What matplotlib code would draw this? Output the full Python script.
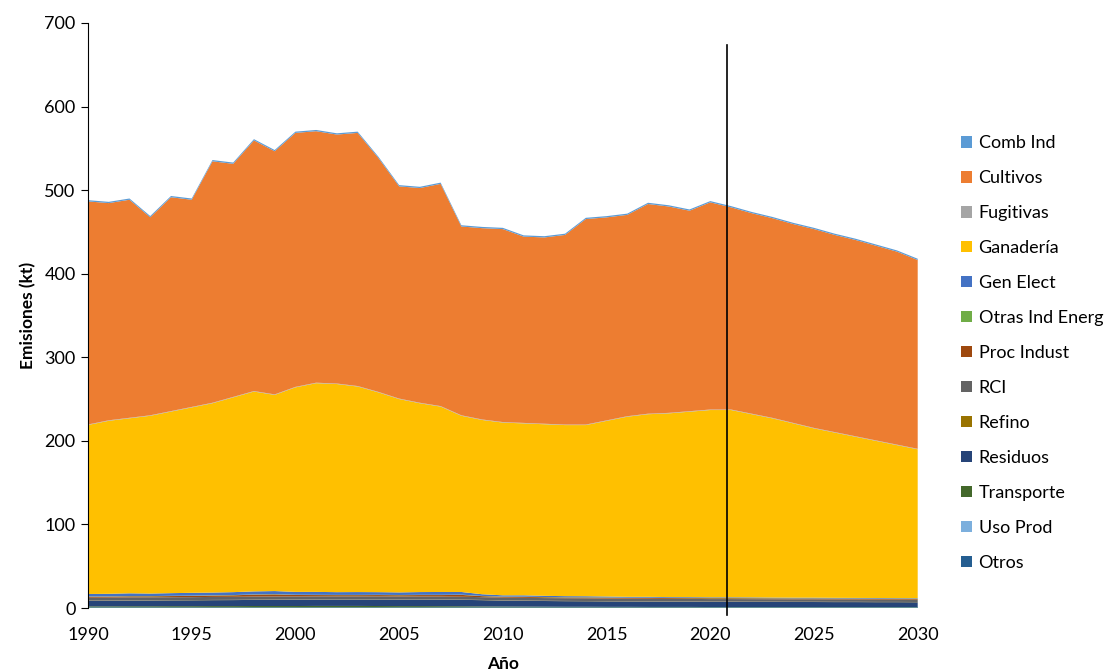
import numpy as np
import matplotlib
matplotlib.use("Agg")
import matplotlib.pyplot as plt

# DATOS (kt), 1990-2030
years = list(range(1990, 2031))

otros = [0.3, 0.3, 0.3, 0.3, 0.3, 0.3, 0.3, 0.3, 0.3, 0.3, 0.3, 0.3, 0.3, 0.3, 0.3, 0.3, 0.3, 0.3, 0.3, 0.3,
         0.3, 0.3, 0.3, 0.3, 0.3, 0.3, 0.3, 0.3, 0.3, 0.3, 0.3, 0.3, 0.3, 0.3, 0.3, 0.3, 0.3, 0.3, 0.3, 0.3, 0.3]
uso_prod = [0.4, 0.4, 0.4, 0.4, 0.4, 0.4, 0.4, 0.4, 0.4, 0.4, 0.4, 0.4, 0.4, 0.4, 0.4, 0.4, 0.4, 0.4, 0.4, 0.4,
            0.4, 0.4, 0.4, 0.4, 0.4, 0.4, 0.4, 0.4, 0.4, 0.4, 0.4, 0.4, 0.4, 0.4, 0.4, 0.4, 0.4, 0.4, 0.4, 0.4, 0.4]
transporte = [1.3, 1.3, 1.4, 1.4, 1.5, 1.5, 1.6, 1.6, 1.7, 1.7, 1.7, 1.8, 1.8, 1.8, 1.7, 1.6, 1.6, 1.5, 1.4, 1.2,
              1.1, 1.0, 0.9, 0.8, 0.8, 0.7, 0.7, 0.6, 0.6, 0.6, 0.5, 0.5, 0.5, 0.5, 0.5, 0.5, 0.5, 0.5, 0.5, 0.5, 0.5]
residuos = [6.5, 6.6, 6.7, 6.8, 6.9, 7.0, 7.1, 7.2, 7.3, 7.4, 7.5, 7.5, 7.6, 7.6, 7.7, 7.7, 7.8, 7.8, 7.7, 7.5,
            7.0, 6.9, 6.8, 6.7, 6.6, 6.5, 6.4, 6.4, 6.3, 6.3, 6.2, 6.2, 6.1, 6.1, 6.0, 6.0, 5.9, 5.9, 5.8, 5.8, 5.7]
refino = [0.3, 0.3, 0.3, 0.3, 0.3, 0.3, 0.3, 0.3, 0.3, 0.3, 0.3, 0.3, 0.3, 0.3, 0.3, 0.3, 0.3, 0.3, 0.3, 0.3,
          0.3, 0.3, 0.3, 0.3, 0.3, 0.3, 0.3, 0.3, 0.3, 0.3, 0.3, 0.3, 0.3, 0.3, 0.3, 0.3, 0.3, 0.3, 0.3, 0.3, 0.3]
rci = [3.5, 3.5, 3.6, 3.6, 3.5, 3.5, 3.6, 3.6, 3.7, 3.7, 3.6, 3.6, 3.5, 3.5, 3.5, 3.5, 3.4, 3.4, 3.4, 3.3,
       3.3, 3.3, 3.2, 3.2, 3.2, 3.1, 3.1, 3.1, 3.0, 3.0, 3.0, 3.0, 3.0, 2.9, 2.9, 2.9, 2.9, 2.8, 2.8, 2.8, 2.8]
proc_indust = [1.2, 1.2, 1.3, 1.2, 1.4, 1.5, 1.6, 1.8, 2.3, 2.5, 1.8, 1.6, 1.5, 1.5, 1.6, 1.5, 1.7, 1.8, 2.2, 1.2,
               1.0, 1.1, 1.0, 0.9, 1.0, 1.1, 0.9, 1.0, 1.0, 0.9, 1.0, 1.0, 1.0, 1.0, 1.0, 1.0, 1.0, 1.0, 1.0, 1.0, 1.0]
otras_ind_energ = [0.3, 0.3, 0.3, 0.3, 0.3, 0.3, 0.3, 0.3, 0.3, 0.3, 0.3, 0.3, 0.3, 0.3, 0.3, 0.3, 0.3, 0.3, 0.3, 0.3,
                   0.3, 0.3, 0.3, 0.3, 0.3, 0.3, 0.3, 0.3, 0.3, 0.3, 0.3, 0.3, 0.3, 0.3, 0.3, 0.3, 0.3, 0.3, 0.3, 0.3, 0.3]
gen_elect = [3.0, 3.1, 3.3, 3.0, 3.2, 3.4, 3.3, 3.5, 3.6, 3.7, 3.4, 3.5, 3.3, 3.4, 3.2, 3.1, 3.3, 3.4, 3.2, 2.0,
             1.5, 1.6, 1.4, 1.3, 1.2, 1.1, 1.0, 1.0, 0.9, 0.9, 0.8, 0.8, 0.8, 0.7, 0.7, 0.7, 0.6, 0.6, 0.6, 0.5, 0.5]
ganaderia = [202.2, 207.0, 209.4, 212.7, 217.2, 221.8, 226.5, 233.0, 239.1, 234.7,
             244.7, 249.7, 249.0, 245.9, 239.0, 231.3, 225.9, 221.8, 210.8, 208.5,
             206.7, 205.7, 205.3, 204.7, 204.8, 210.1, 215.5, 218.5, 219.8, 221.9,
             224.1, 224.1, 219.2, 214.4, 208.5, 202.5, 197.7, 192.8, 187.9, 183.0, 178.1]
fugitivas = [0.6, 0.6, 0.6, 0.6, 0.6, 0.6, 0.6, 0.6, 0.6, 0.6, 0.6, 0.6, 0.6, 0.6, 0.6, 0.6, 0.6, 0.6, 0.6, 0.6,
             0.6, 0.6, 0.6, 0.6, 0.6, 0.6, 0.6, 0.6, 0.6, 0.6, 0.6, 0.6, 0.6, 0.6, 0.6, 0.6, 0.6, 0.6, 0.6, 0.6, 0.6]
cultivos = [266.9, 259.9, 260.9, 236.9, 255.9, 247.9, 288.9, 278.9, 299.9, 290.9,
            303.9, 300.9, 297.9, 302.9, 279.9, 253.9, 256.9, 265.9, 225.9, 228.9,
            230.9, 222.9, 222.9, 226.9, 245.9, 242.9, 240.9, 250.9, 246.9, 239.9,
            247.9, 241.9, 239.9, 238.9, 237.9, 237.9, 235.9, 234.9, 232.9, 230.9, 225.9]
comb_ind = [1.5, 1.5, 1.5, 1.5, 1.5, 1.5, 1.5, 1.5, 1.5, 1.5, 1.5, 1.5, 1.5, 1.5, 1.5, 1.5, 1.5, 1.5, 1.5, 1.5,
            1.5, 1.5, 1.5, 1.5, 1.5, 1.5, 1.5, 1.5, 1.5, 1.5, 1.5, 1.5, 1.5, 1.5, 1.5, 1.5, 1.5, 1.5, 1.5, 1.5, 1.5]

# orden de la leyenda (de arriba hacia abajo)
labels = ["Comb Ind", "Cultivos", "Fugitivas", "Ganadería", "Gen Elect", "Otras Ind Energ",
          "Proc Indust", "RCI", "Refino", "Residuos", "Transporte", "Uso Prod", "Otros"]
series = [comb_ind, cultivos, fugitivas, ganaderia, gen_elect, otras_ind_energ,
          proc_indust, rci, refino, residuos, transporte, uso_prod, otros]
colors = ["#5B9BD5", "#ED7D31", "#A5A5A5", "#FFC000", "#4472C4", "#70AD47",
          "#9E480E", "#636363", "#997300", "#264478", "#43682B", "#7CAFDD", "#255E91"]

plt.rcParams['font.family'] = ['Lato', 'DejaVu Sans']

fig = plt.figure(figsize=(11.07, 6.72), dpi=100)
ax = fig.add_axes([0.0795, 0.0952, 0.7495, 0.8706])

# apilado: Otros abajo, Comb Ind arriba
polys = ax.stackplot(years, *series[::-1], colors=colors[::-1], labels=labels[::-1], linewidth=0)

ax.plot([2020.8, 2020.8], [-8, 674], color="black", lw=1.2, clip_on=False, zorder=5)

ax.set_xlim(1990, 2030)
ax.set_ylim(0, 700)
ax.set_xticks(range(1990, 2031, 5))
ax.set_yticks(range(0, 701, 100))
ax.tick_params(axis="x", length=0, pad=14, labelsize=13)
ax.tick_params(axis="y", length=5, direction="out", labelsize=13, pad=4)
for s in ["top", "right", "bottom"]:
    ax.spines[s].set_visible(False)
ax.spines["left"].set_color("black")

ax.set_xlabel("Año", fontsize=12.5, fontweight="bold", labelpad=9)
ax.set_ylabel("Emisiones (kt)", fontsize=12.5, fontweight="bold", labelpad=6)

h = polys[::-1]
leg = fig.legend(h, labels, loc="upper left", bbox_to_anchor=(0.862, 0.8095), frameon=False,
                 fontsize=13, handlelength=0.6, handleheight=0.6, handletextpad=0.35,
                 labelspacing=1.05, borderaxespad=0)

fig.savefig("out.png", dpi=100)
